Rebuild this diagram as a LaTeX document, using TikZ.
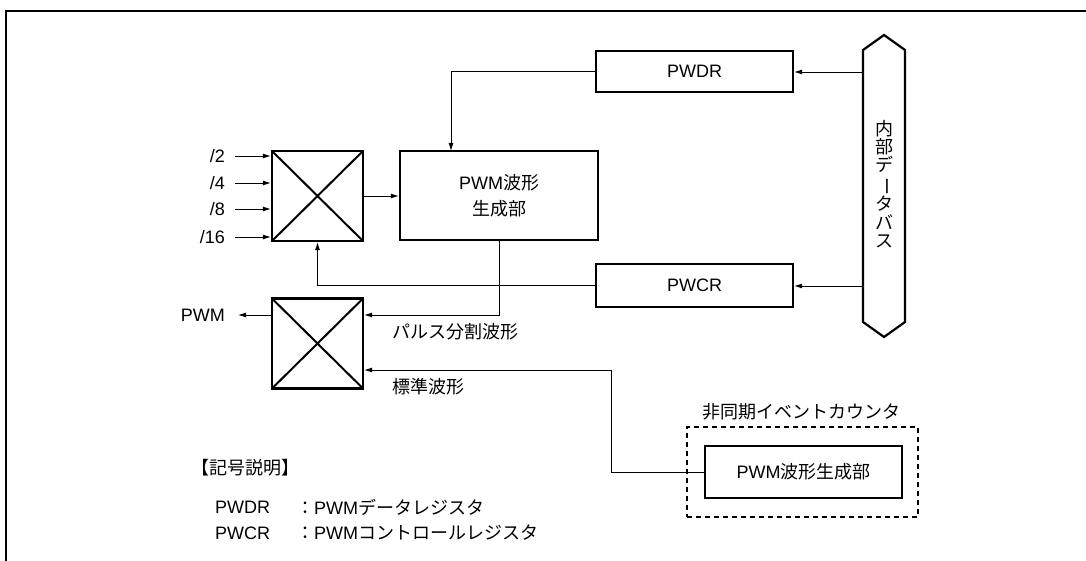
\documentclass[tikz,border=0pt]{standalone}
\usepackage{fontspec}
\usepackage{graphicx}
\setmainfont{Liberation Sans}
\newfontfamily\jp{Noto Sans CJK JP}
\usetikzlibrary{arrows.meta}
\begin{document}
\begin{tikzpicture}[x=1pt,y=-1pt,
  every node/.style={font=\fontsize{18}{20}\selectfont, inner sep=0pt},
  jpfont/.style={font=\jp\fontsize{18}{20}\selectfont},
  blk/.style={draw, line width=2.2pt, rectangle},
  mux/.style={draw, line width=2.2pt, rectangle, minimum width=91pt, minimum height=90pt,
     path picture={\draw[line width=2pt] (path picture bounding box.north west) -- (path picture bounding box.south east)
       (path picture bounding box.north east) -- (path picture bounding box.south west);}},
  conn/.style={line width=0.9pt},
  arr/.style={conn, -{Latex[length=8pt,width=5pt]}},
  lbl/.style={anchor=east}]
\useasboundingbox (0,0) rectangle (1086,561);
% frame
\draw[line width=2.5pt] (6,562) -- (6,11) -- (1087,11);

% blocks
\node[blk, minimum width=197pt, minimum height=41pt] (pwdr) at (694.5,71.5) {PWDR};
\node[blk, minimum width=197pt, minimum height=43pt] (pwcr) at (694.5,285.5) {PWCR};
\node[blk, minimum width=198pt, minimum height=89pt, align=center, font=\fontsize{18}{26}\selectfont] (gen) at (499,195.5) {PWM{\jp 波形}\\{\jp 生成部}};
\node[mux] (sel1) at (317.5,196) {};
\node[mux] (sel2) at (317.5,343.5) {};

% bus
\draw[line width=2.2pt, line join=miter] (863,50) -- (884,35) -- (905,50) -- (905,322) -- (884,337) -- (863,322) -- cycle;
\node[align=center, font=\jp\fontsize{18}{18.3}\selectfont] (busname) at (884,184) {内\\部\\デ\\\rotatebox[origin=c]{-90}{ー}\\タ\\バ\\ス};
\coordinate (busA) at (863,72);
\coordinate (busB) at (863,286);
\draw[arr] (busA) -- (busA -| pwdr.east);
\draw[arr] (busB) -- (busB -| pwcr.east);

% inputs
\foreach \n/\y/\t in {a/156/{/2}, b/183/{/4}, c/209/{/8}, d/237/{/16}} {
  \coordinate (in\n) at (235,\y);
  \node[lbl] (l\n) at (225,\y) {\t};
  \draw[arr] (in\n) -- (in\n -| sel1.west);
}

% connections
\draw[arr] (sel1.east) -- (sel1.east -| gen.west);
\coordinate (genin) at (451,151);
\draw[arr] (pwdr.west) -| (genin);
\draw[arr] (pwcr.west) -| (sel1.south);
\coordinate (pulse) at (499,315);
\draw[arr] (gen.south) -- (pulse) -- (pulse -| sel2.east);
\node[anchor=west, jpfont] (pulselbl) at (392,332) {パルス分割波形};

\coordinate (pwmout) at (238,315);
\draw[arr] (pwmout -| sel2.west) -- (pwmout);
\node[lbl] (pwmlbl) at (225,315) {PWM};

% async counter
\node[draw, line width=2.2pt, dash pattern=on 5pt off 4pt, minimum width=231pt, minimum height=90pt] (async) at (802.5,472) {};
\node[jpfont] (asynclbl) at (801,412) {非同期イベントカウンタ};
\node[blk, minimum width=197pt, minimum height=52pt] (genb) at (803.5,472) {PWM{\jp 波形生成部}};
\coordinate (bend) at (611,370);
\draw[arr] (genb.west) -| (bend) -- (bend -| sel2.east);
\node[anchor=west, jpfont] (stdlbl) at (392,387) {標準波形};

% legend
\node[anchor=west, jpfont] (legtitle) at (191,468) {【記号説明】};
\node[anchor=west] (k1) at (215,507) {PWDR};
\node[anchor=west] (v1) at (296,507) {{\jp ：}PWM{\jp データレジスタ}};
\node[anchor=west] (k2) at (215,533) {PWCR};
\node[anchor=west] (v2) at (296,533) {{\jp ：}PWM{\jp コントロールレジスタ}};
\end{tikzpicture}
\end{document}
